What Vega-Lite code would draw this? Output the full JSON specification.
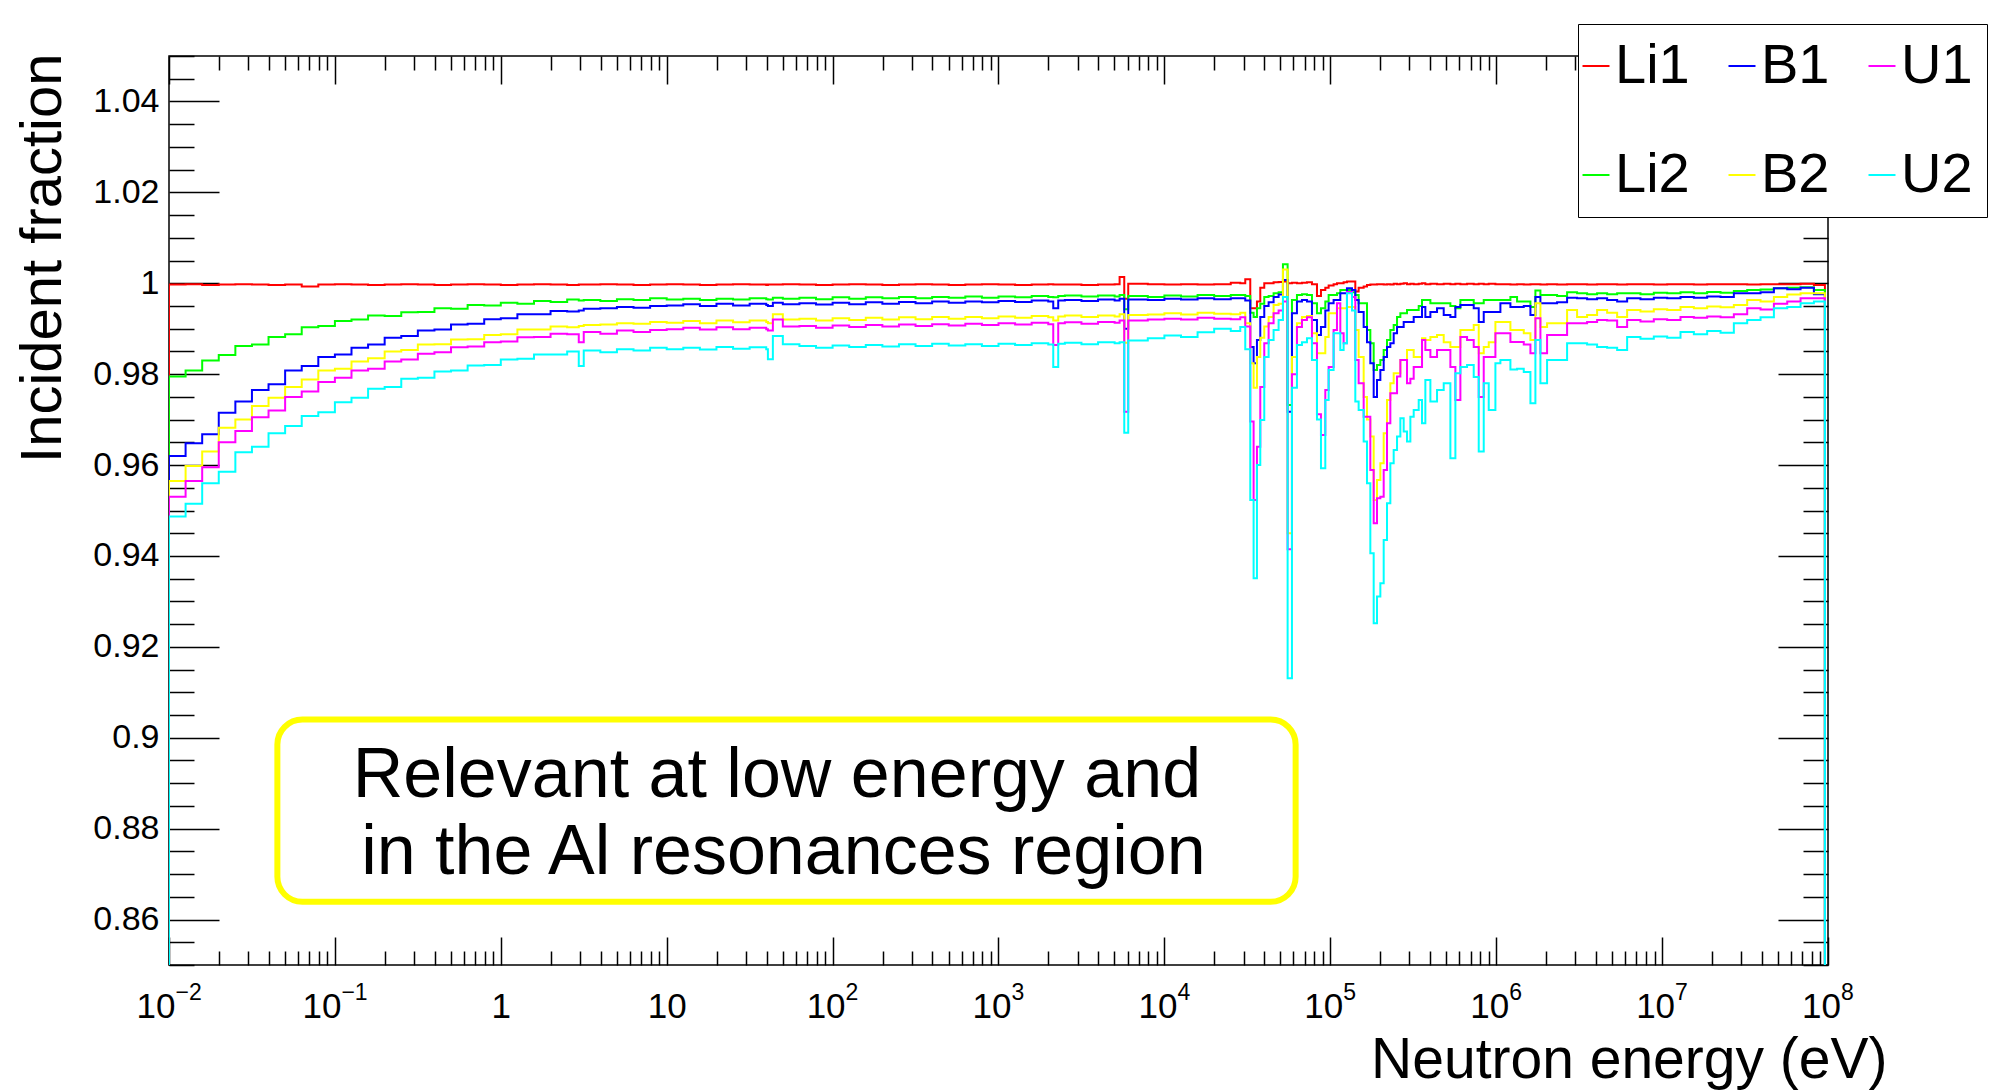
{
"$schema": "https://vega.github.io/schema/vega-lite/v6.json",
"width": 1659,
"height": 909,
"autosize": {"type": "none"},
"padding": {"left": 169, "top": 56, "right": 169, "bottom": 125},
"background": "white",
"config": {
  "view": {"stroke": "black", "strokeWidth": 1.5},
  "font": "Liberation Sans",
  "axis": {"labelColor": "black", "titleColor": "black", "tickColor": "black", "tickWidth": 1.5, "grid": false, "domain": false, "titleFontWeight": "normal"}
},
"resolve": {"axis": {"x": "independent", "y": "independent"}},
"layer": [
{
  "data": {"values": [
{"e":0.01,"Li1":0.85,"Li2":0.85,"B1":0.85,"B2":0.85,"U1":0.85,"U2":0.85},
{"e":0.01,"Li1":0.9997,"Li2":0.9795,"B1":0.9620,"B2":0.9565,"U1":0.9530,"U2":0.9487},
{"e":0.01259,"Li1":0.9998,"Li2":0.9808,"B1":0.9648,"B2":0.9598,"U1":0.9565,"U2":0.9515},
{"e":0.01585,"Li1":0.9996,"Li2":0.9830,"B1":0.9668,"B2":0.9630,"U1":0.9595,"U2":0.9560},
{"e":0.01995,"Li1":0.9997,"Li2":0.9842,"B1":0.9715,"B2":0.9682,"U1":0.9650,"U2":0.9585},
{"e":0.02512,"Li1":0.9998,"Li2":0.9862,"B1":0.9740,"B2":0.9700,"U1":0.9675,"U2":0.9628},
{"e":0.03162,"Li1":0.9997,"Li2":0.9865,"B1":0.9765,"B2":0.9730,"U1":0.9705,"U2":0.9640},
{"e":0.03981,"Li1":0.9996,"Li2":0.9882,"B1":0.9778,"B2":0.9748,"U1":0.9720,"U2":0.9670},
{"e":0.05012,"Li1":0.9997,"Li2":0.9888,"B1":0.9808,"B2":0.9772,"U1":0.9750,"U2":0.9686},
{"e":0.0631,"Li1":0.9993,"Li2":0.9903,"B1":0.9818,"B2":0.9788,"U1":0.9762,"U2":0.9708},
{"e":0.07943,"Li1":0.9997,"Li2":0.9906,"B1":0.9838,"B2":0.9808,"U1":0.9783,"U2":0.9716},
{"e":0.1,"Li1":0.9998,"Li2":0.9917,"B1":0.9843,"B2":0.9812,"U1":0.9792,"U2":0.9738},
{"e":0.1259,"Li1":0.9997,"Li2":0.9920,"B1":0.9858,"B2":0.9828,"U1":0.9808,"U2":0.9748},
{"e":0.1585,"Li1":0.9996,"Li2":0.9929,"B1":0.9865,"B2":0.9835,"U1":0.9812,"U2":0.9768},
{"e":0.1995,"Li1":0.9997,"Li2":0.9928,"B1":0.9880,"B2":0.9850,"U1":0.9828,"U2":0.9772},
{"e":0.2512,"Li1":0.9998,"Li2":0.9936,"B1":0.9884,"B2":0.9853,"U1":0.9832,"U2":0.9790},
{"e":0.3162,"Li1":0.9997,"Li2":0.9937,"B1":0.9896,"B2":0.9865,"U1":0.9845,"U2":0.9792},
{"e":0.3981,"Li1":0.9996,"Li2":0.9945,"B1":0.9898,"B2":0.9866,"U1":0.9848,"U2":0.9806},
{"e":0.5012,"Li1":0.9997,"Li2":0.9944,"B1":0.9909,"B2":0.9876,"U1":0.9859,"U2":0.9808},
{"e":0.631,"Li1":0.9998,"Li2":0.9952,"B1":0.9911,"B2":0.9877,"U1":0.9861,"U2":0.9819},
{"e":0.7943,"Li1":0.9997,"Li2":0.9951,"B1":0.9921,"B2":0.9886,"U1":0.9870,"U2":0.9820},
{"e":1,"Li1":0.9996,"Li2":0.9957,"B1":0.9923,"B2":0.9888,"U1":0.9872,"U2":0.9832},
{"e":1.259,"Li1":0.9997,"Li2":0.9955,"B1":0.9932,"B2":0.9898,"U1":0.9881,"U2":0.9834},
{"e":1.585,"Li1":0.9998,"Li2":0.9961,"B1":0.9932,"B2":0.9898,"U1":0.9882,"U2":0.9843},
{"e":1.995,"Li1":0.9997,"Li2":0.9959,"B1":0.9939,"B2":0.9905,"U1":0.9889,"U2":0.9843},
{"e":2.512,"Li1":0.9996,"Li2":0.9964,"B1":0.9938,"B2":0.9903,"U1":0.9888,"U2":0.9850},
{"e":2.951,"Li1":0.9997,"Li2":0.9962,"B1":0.9940,"B2":0.9906,"U1":0.9870,"U2":0.9818},
{"e":3.162,"Li1":0.9997,"Li2":0.9963,"B1":0.9944,"B2":0.9908,"U1":0.9893,"U2":0.9852},
{"e":3.981,"Li1":0.9998,"Li2":0.9961,"B1":0.9945,"B2":0.9909,"U1":0.9889,"U2":0.9848},
{"e":5.012,"Li1":0.9997,"Li2":0.9965,"B1":0.9948,"B2":0.9912,"U1":0.9896,"U2":0.9855},
{"e":6.31,"Li1":0.9996,"Li2":0.9963,"B1":0.9946,"B2":0.9911,"U1":0.9893,"U2":0.9852},
{"e":7.943,"Li1":0.9997,"Li2":0.9967,"B1":0.9950,"B2":0.9915,"U1":0.9897,"U2":0.9858},
{"e":10,"Li1":0.9998,"Li2":0.9964,"B1":0.9951,"B2":0.9913,"U1":0.9899,"U2":0.9855},
{"e":12.59,"Li1":0.9997,"Li2":0.9966,"B1":0.9954,"B2":0.9917,"U1":0.9902,"U2":0.9858},
{"e":15.85,"Li1":0.9996,"Li2":0.9963,"B1":0.9950,"B2":0.9912,"U1":0.9898,"U2":0.9854},
{"e":19.95,"Li1":0.9997,"Li2":0.9966,"B1":0.9955,"B2":0.9918,"U1":0.9903,"U2":0.9860},
{"e":25.12,"Li1":0.9998,"Li2":0.9964,"B1":0.9951,"B2":0.9914,"U1":0.9899,"U2":0.9856},
{"e":31.62,"Li1":0.9997,"Li2":0.9967,"B1":0.9955,"B2":0.9918,"U1":0.9902,"U2":0.9859},
{"e":39.81,"Li1":0.9996,"Li2":0.9965,"B1":0.9952,"B2":0.9915,"U1":0.9899,"U2":0.9855},
{"e":40.74,"Li1":0.9997,"Li2":0.9964,"B1":0.9950,"B2":0.9912,"U1":0.9896,"U2":0.9833},
{"e":43.65,"Li1":0.9997,"Li2":0.9968,"B1":0.9957,"B2":0.9932,"U1":0.9920,"U2":0.9884},
{"e":50.12,"Li1":0.9998,"Li2":0.9966,"B1":0.9954,"B2":0.9920,"U1":0.9905,"U2":0.9866},
{"e":63.1,"Li1":0.9997,"Li2":0.9968,"B1":0.9956,"B2":0.9922,"U1":0.9906,"U2":0.9862},
{"e":79.43,"Li1":0.9996,"Li2":0.9965,"B1":0.9953,"B2":0.9918,"U1":0.9902,"U2":0.9858},
{"e":100,"Li1":0.9997,"Li2":0.9969,"B1":0.9957,"B2":0.9923,"U1":0.9907,"U2":0.9863},
{"e":125.9,"Li1":0.9998,"Li2":0.9966,"B1":0.9954,"B2":0.9919,"U1":0.9904,"U2":0.9860},
{"e":158.5,"Li1":0.9997,"Li2":0.9969,"B1":0.9958,"B2":0.9924,"U1":0.9908,"U2":0.9864},
{"e":199.5,"Li1":0.9996,"Li2":0.9967,"B1":0.9955,"B2":0.9920,"U1":0.9905,"U2":0.9861},
{"e":251.2,"Li1":0.9997,"Li2":0.9970,"B1":0.9959,"B2":0.9925,"U1":0.9909,"U2":0.9866},
{"e":316.2,"Li1":0.9998,"Li2":0.9967,"B1":0.9956,"B2":0.9921,"U1":0.9906,"U2":0.9862},
{"e":398.1,"Li1":0.9997,"Li2":0.9970,"B1":0.9960,"B2":0.9926,"U1":0.9910,"U2":0.9867},
{"e":501.2,"Li1":0.9996,"Li2":0.9968,"B1":0.9957,"B2":0.9922,"U1":0.9907,"U2":0.9863},
{"e":631,"Li1":0.9997,"Li2":0.9971,"B1":0.9960,"B2":0.9926,"U1":0.9911,"U2":0.9866},
{"e":794.3,"Li1":0.9998,"Li2":0.9968,"B1":0.9958,"B2":0.9923,"U1":0.9908,"U2":0.9862},
{"e":1000,"Li1":0.9997,"Li2":0.9971,"B1":0.9961,"B2":0.9927,"U1":0.9912,"U2":0.9867},
{"e":1259,"Li1":0.9996,"Li2":0.9969,"B1":0.9959,"B2":0.9924,"U1":0.9909,"U2":0.9864},
{"e":1585,"Li1":0.9997,"Li2":0.9972,"B1":0.9962,"B2":0.9928,"U1":0.9913,"U2":0.9868},
{"e":1995,"Li1":0.9998,"Li2":0.9970,"B1":0.9960,"B2":0.9925,"U1":0.9910,"U2":0.9865},
{"e":2138,"Li1":0.9997,"Li2":0.9969,"B1":0.9945,"B2":0.9918,"U1":0.9864,"U2":0.9816},
{"e":2291,"Li1":0.9997,"Li2":0.9972,"B1":0.9962,"B2":0.9927,"U1":0.9912,"U2":0.9867},
{"e":2512,"Li1":0.9997,"Li2":0.9973,"B1":0.9963,"B2":0.9929,"U1":0.9914,"U2":0.9869},
{"e":3162,"Li1":0.9996,"Li2":0.9971,"B1":0.9961,"B2":0.9926,"U1":0.9911,"U2":0.9866},
{"e":3981,"Li1":0.9997,"Li2":0.9973,"B1":0.9964,"B2":0.9929,"U1":0.9915,"U2":0.9870},
{"e":5012,"Li1":0.9998,"Li2":0.9971,"B1":0.9962,"B2":0.9927,"U1":0.9913,"U2":0.9868},
{"e":5370,"Li1":1.0014,"Li2":0.9974,"B1":0.9966,"B2":0.9932,"U1":0.9918,"U2":0.9870},
{"e":5728,"Li1":0.9966,"Li2":0.9943,"B1":0.9900,"B2":0.9869,"U1":0.9717,"U2":0.9671},
{"e":6053,"Li1":0.9999,"Li2":0.9972,"B1":0.9964,"B2":0.9930,"U1":0.9918,"U2":0.9874},
{"e":7943,"Li1":0.9998,"Li2":0.9970,"B1":0.9963,"B2":0.9931,"U1":0.9920,"U2":0.9879},
{"e":10000,"Li1":0.9997,"Li2":0.9973,"B1":0.9966,"B2":0.9934,"U1":0.9922,"U2":0.9885},
{"e":12590,"Li1":0.9998,"Li2":0.9971,"B1":0.9964,"B2":0.9931,"U1":0.9920,"U2":0.9882},
{"e":15850,"Li1":0.9997,"Li2":0.9974,"B1":0.9967,"B2":0.9935,"U1":0.9924,"U2":0.9892},
{"e":19950,"Li1":0.9998,"Li2":0.9972,"B1":0.9965,"B2":0.9933,"U1":0.9922,"U2":0.9900},
{"e":25120,"Li1":1.0001,"Li2":0.9974,"B1":0.9967,"B2":0.9932,"U1":0.9921,"U2":0.9895},
{"e":28660,"Li1":1.0000,"Li2":0.9974,"B1":0.9967,"B2":0.9935,"U1":0.9925,"U2":0.9904},
{"e":30720,"Li1":1.0009,"Li2":0.9972,"B1":0.9962,"B2":0.9912,"U1":0.9905,"U2":0.9855},
{"e":32930,"Li1":0.9945,"Li2":0.9935,"B1":0.9860,"B2":0.9824,"U1":0.9696,"U2":0.9523},
{"e":34490,"Li1":0.9945,"Li2":0.9926,"B1":0.9824,"B2":0.9770,"U1":0.9523,"U2":0.9351},
{"e":36130,"Li1":0.9960,"Li2":0.9945,"B1":0.9875,"B2":0.9838,"U1":0.9640,"U2":0.9600},
{"e":37840,"Li1":0.9990,"Li2":0.9955,"B1":0.9926,"B2":0.9880,"U1":0.9772,"U2":0.9699},
{"e":39990,"Li1":1.0000,"Li2":0.9970,"B1":0.9950,"B2":0.9905,"U1":0.9868,"U2":0.9838},
{"e":42480,"Li1":1.0000,"Li2":0.9972,"B1":0.9958,"B2":0.9926,"U1":0.9912,"U2":0.9875},
{"e":45520,"Li1":1.0002,"Li2":0.9978,"B1":0.9970,"B2":0.9952,"U1":0.9934,"U2":0.9897},
{"e":48800,"Li1":1.0003,"Li2":0.9980,"B1":0.9975,"B2":0.9955,"U1":0.9940,"U2":0.9919},
{"e":51830,"Li1":1.0004,"Li2":1.0042,"B1":1.0007,"B2":1.0030,"U1":0.9960,"U2":0.9970},
{"e":55300,"Li1":1.0000,"Li2":0.9732,"B1":0.9717,"B2":0.9450,"U1":0.9415,"U2":0.9131},
{"e":58730,"Li1":1.0001,"Li2":0.9963,"B1":0.9934,"B2":0.9838,"U1":0.9800,"U2":0.9770},
{"e":62950,"Li1":1.0000,"Li2":0.9974,"B1":0.9960,"B2":0.9912,"U1":0.9904,"U2":0.9864},
{"e":67480,"Li1":1.0001,"Li2":0.9976,"B1":0.9963,"B2":0.9926,"U1":0.9919,"U2":0.9870},
{"e":72330,"Li1":1.0002,"Li2":0.9974,"B1":0.9960,"B2":0.9928,"U1":0.9925,"U2":0.9879},
{"e":77530,"Li1":0.9998,"Li2":0.9956,"B1":0.9919,"B2":0.9890,"U1":0.9868,"U2":0.9831},
{"e":83110,"Li1":0.9972,"Li2":0.9934,"B1":0.9886,"B2":0.9846,"U1":0.9712,"U2":0.9700},
{"e":87850,"Li1":0.9985,"Li2":0.9945,"B1":0.9904,"B2":0.9846,"U1":0.9666,"U2":0.9593},
{"e":93300,"Li1":0.9990,"Li2":0.9960,"B1":0.9940,"B2":0.9882,"U1":0.9765,"U2":0.9743},
{"e":97720,"Li1":0.9995,"Li2":0.9974,"B1":0.9956,"B2":0.9934,"U1":0.9816,"U2":0.9809},
{"e":104700,"Li1":0.9998,"Li2":0.9974,"B1":0.9963,"B2":0.9934,"U1":0.9897,"U2":0.9890},
{"e":109700,"Li1":1.0000,"Li2":0.9978,"B1":0.9963,"B2":0.9945,"U1":0.9956,"U2":0.9890},
{"e":114900,"Li1":1.0000,"Li2":0.9985,"B1":0.9978,"B2":0.9945,"U1":0.9890,"U2":0.9853},
{"e":120300,"Li1":1.0002,"Li2":0.9985,"B1":0.9978,"B2":0.9945,"U1":0.9868,"U2":0.9868},
{"e":126000,"Li1":1.0004,"Li2":0.9985,"B1":0.9989,"B2":0.9948,"U1":0.9981,"U2":0.9978},
{"e":135100,"Li1":1.0004,"Li2":0.9980,"B1":0.9985,"B2":0.9948,"U1":0.9970,"U2":0.9940},
{"e":141500,"Li1":0.9982,"Li2":0.9974,"B1":0.9963,"B2":0.9897,"U1":0.9831,"U2":0.9740},
{"e":148200,"Li1":0.9990,"Li2":0.9956,"B1":0.9937,"B2":0.9838,"U1":0.9780,"U2":0.9721},
{"e":158900,"Li1":0.9993,"Li2":0.9956,"B1":0.9904,"B2":0.9750,"U1":0.9706,"U2":0.9652},
{"e":166400,"Li1":0.9996,"Li2":0.9897,"B1":0.9870,"B2":0.9700,"U1":0.9706,"U2":0.9560},
{"e":174300,"Li1":0.9997,"Li2":0.9868,"B1":0.9824,"B2":0.9663,"U1":0.9589,"U2":0.9406},
{"e":182600,"Li1":0.9997,"Li2":0.9809,"B1":0.9750,"B2":0.9523,"U1":0.9472,"U2":0.9252},
{"e":191200,"Li1":0.9998,"Li2":0.9820,"B1":0.9787,"B2":0.9567,"U1":0.9527,"U2":0.9311},
{"e":200300,"Li1":0.9998,"Li2":0.9831,"B1":0.9809,"B2":0.9604,"U1":0.9530,"U2":0.9340},
{"e":209800,"Li1":0.9997,"Li2":0.9853,"B1":0.9838,"B2":0.9670,"U1":0.9589,"U2":0.9435},
{"e":219700,"Li1":0.9998,"Li2":0.9875,"B1":0.9860,"B2":0.9743,"U1":0.9692,"U2":0.9516},
{"e":230100,"Li1":0.9997,"Li2":0.9897,"B1":0.9868,"B2":0.9780,"U1":0.9758,"U2":0.9604},
{"e":241000,"Li1":0.9999,"Li2":0.9908,"B1":0.9890,"B2":0.9802,"U1":0.9758,"U2":0.9633},
{"e":252500,"Li1":0.9998,"Li2":0.9926,"B1":0.9904,"B2":0.9802,"U1":0.9795,"U2":0.9663},
{"e":264400,"Li1":0.9999,"Li2":0.9934,"B1":0.9904,"B2":0.9831,"U1":0.9831,"U2":0.9703},
{"e":276900,"Li1":1.0000,"Li2":0.9934,"B1":0.9915,"B2":0.9831,"U1":0.9831,"U2":0.9674},
{"e":290000,"Li1":0.9998,"Li2":0.9941,"B1":0.9915,"B2":0.9853,"U1":0.9780,"U2":0.9652},
{"e":303800,"Li1":0.9999,"Li2":0.9941,"B1":0.9915,"B2":0.9853,"U1":0.9790,"U2":0.9706},
{"e":318200,"Li1":0.9998,"Li2":0.9941,"B1":0.9926,"B2":0.9838,"U1":0.9816,"U2":0.9721},
{"e":341100,"Li1":0.9999,"Li2":0.9950,"B1":0.9926,"B2":0.9838,"U1":0.9816,"U2":0.9743},
{"e":357200,"Li1":1.0000,"Li2":0.9963,"B1":0.9948,"B2":0.9879,"U1":0.9875,"U2":0.9692},
{"e":374100,"Li1":0.9998,"Li2":0.9963,"B1":0.9926,"B2":0.9875,"U1":0.9853,"U2":0.9787},
{"e":401100,"Li1":0.9999,"Li2":0.9956,"B1":0.9937,"B2":0.9882,"U1":0.9838,"U2":0.9740},
{"e":439900,"Li1":0.9998,"Li2":0.9956,"B1":0.9945,"B2":0.9886,"U1":0.9853,"U2":0.9765},
{"e":482600,"Li1":0.9999,"Li2":0.9956,"B1":0.9930,"B2":0.9870,"U1":0.9853,"U2":0.9780},
{"e":529400,"Li1":0.9998,"Li2":0.9950,"B1":0.9926,"B2":0.9860,"U1":0.9816,"U2":0.9615},
{"e":567500,"Li1":0.9999,"Li2":0.9945,"B1":0.9948,"B2":0.9860,"U1":0.9743,"U2":0.9802},
{"e":608300,"Li1":0.9998,"Li2":0.9963,"B1":0.9952,"B2":0.9897,"U1":0.9882,"U2":0.9816},
{"e":667300,"Li1":0.9999,"Li2":0.9963,"B1":0.9952,"B2":0.9897,"U1":0.9875,"U2":0.9820},
{"e":732000,"Li1":0.9998,"Li2":0.9956,"B1":0.9945,"B2":0.9908,"U1":0.9860,"U2":0.9794},
{"e":784700,"Li1":0.9999,"Li2":0.9956,"B1":0.9915,"B2":0.9846,"U1":0.9750,"U2":0.9630},
{"e":841100,"Li1":0.9998,"Li2":0.9963,"B1":0.9937,"B2":0.9860,"U1":0.9838,"U2":0.9780},
{"e":901600,"Li1":0.9999,"Li2":0.9963,"B1":0.9937,"B2":0.9870,"U1":0.9838,"U2":0.9721},
{"e":989000,"Li1":0.9998,"Li2":0.9963,"B1":0.9937,"B2":0.9915,"U1":0.9890,"U2":0.9824},
{"e":1060000,"Li1":0.9998,"Li2":0.9963,"B1":0.9956,"B2":0.9915,"U1":0.9890,"U2":0.9831},
{"e":1218000,"Li1":0.9997,"Li2":0.9970,"B1":0.9948,"B2":0.9897,"U1":0.9871,"U2":0.9810},
{"e":1336000,"Li1":0.9998,"Li2":0.9960,"B1":0.9948,"B2":0.9897,"U1":0.9871,"U2":0.9812},
{"e":1466000,"Li1":0.9997,"Li2":0.9960,"B1":0.9950,"B2":0.9890,"U1":0.9865,"U2":0.9805},
{"e":1608000,"Li1":0.9998,"Li2":0.9948,"B1":0.9930,"B2":0.9875,"U1":0.9846,"U2":0.9736},
{"e":1723000,"Li1":0.9998,"Li2":0.9984,"B1":0.9970,"B2":0.9956,"U1":0.9923,"U2":0.9875},
{"e":1847000,"Li1":0.9997,"Li2":0.9974,"B1":0.9956,"B2":0.9904,"U1":0.9846,"U2":0.9780},
{"e":2026000,"Li1":0.9998,"Li2":0.9974,"B1":0.9956,"B2":0.9912,"U1":0.9886,"U2":0.9831},
{"e":2328000,"Li1":0.9997,"Li2":0.9972,"B1":0.9958,"B2":0.9912,"U1":0.9886,"U2":0.9831},
{"e":2675000,"Li1":0.9998,"Li2":0.9980,"B1":0.9968,"B2":0.9941,"U1":0.9912,"U2":0.9868},
{"e":3073000,"Li1":0.9998,"Li2":0.9978,"B1":0.9967,"B2":0.9926,"U1":0.9912,"U2":0.9868},
{"e":3531000,"Li1":0.9997,"Li2":0.9976,"B1":0.9965,"B2":0.9930,"U1":0.9915,"U2":0.9865},
{"e":4057000,"Li1":0.9998,"Li2":0.9978,"B1":0.9967,"B2":0.9941,"U1":0.9919,"U2":0.9860},
{"e":4663000,"Li1":0.9998,"Li2":0.9976,"B1":0.9963,"B2":0.9935,"U1":0.9918,"U2":0.9858},
{"e":5358000,"Li1":0.9997,"Li2":0.9978,"B1":0.9960,"B2":0.9926,"U1":0.9904,"U2":0.9853},
{"e":6155000,"Li1":0.9998,"Li2":0.9978,"B1":0.9967,"B2":0.9941,"U1":0.9919,"U2":0.9882},
{"e":7405000,"Li1":0.9998,"Li2":0.9976,"B1":0.9965,"B2":0.9938,"U1":0.9916,"U2":0.9878},
{"e":8913000,"Li1":0.9997,"Li2":0.9979,"B1":0.9968,"B2":0.9943,"U1":0.9921,"U2":0.9883},
{"e":10730000,"Li1":0.9998,"Li2":0.9978,"B1":0.9967,"B2":0.9941,"U1":0.9919,"U2":0.9880},
{"e":12910000,"Li1":0.9998,"Li2":0.9980,"B1":0.9970,"B2":0.9948,"U1":0.9926,"U2":0.9893},
{"e":15540000,"Li1":0.9997,"Li2":0.9978,"B1":0.9968,"B2":0.9945,"U1":0.9924,"U2":0.9888},
{"e":18690000,"Li1":0.9998,"Li2":0.9981,"B1":0.9971,"B2":0.9949,"U1":0.9927,"U2":0.9895},
{"e":22500000,"Li1":0.9998,"Li2":0.9979,"B1":0.9970,"B2":0.9947,"U1":0.9925,"U2":0.9891},
{"e":27070000,"Li1":0.9998,"Li2":0.9983,"B1":0.9978,"B2":0.9952,"U1":0.9932,"U2":0.9912},
{"e":32580000,"Li1":0.9997,"Li2":0.9985,"B1":0.9978,"B2":0.9963,"U1":0.9945,"U2":0.9919},
{"e":39210000,"Li1":0.9998,"Li2":0.9986,"B1":0.9980,"B2":0.9960,"U1":0.9942,"U2":0.9925},
{"e":47190000,"Li1":0.9998,"Li2":0.9989,"B1":0.9989,"B2":0.9970,"U1":0.9955,"U2":0.9945},
{"e":56790000,"Li1":0.9998,"Li2":0.9990,"B1":0.9987,"B2":0.9975,"U1":0.9960,"U2":0.9948},
{"e":68330000,"Li1":0.9999,"Li2":0.9991,"B1":0.9990,"B2":0.9978,"U1":0.9967,"U2":0.9956},
{"e":82220000,"Li1":0.9996,"Li2":0.9985,"B1":0.9976,"B2":0.9978,"U1":0.9967,"U2":0.9960},
{"e":95810000,"Li1":0.9996,"Li2":0.9985,"B1":0.9976,"B2":0.9978,"U1":0.9967,"U2":0.9960},
{"e":95810000,"Li1":0.85,"Li2":0.85,"B1":0.85,"B2":0.85,"U1":0.85,"U2":0.85}
  ]},
  "transform": [{"fold": ["Li1", "Li2", "B1", "B2", "U1", "U2"], "as": ["series", "frac"]}],
  "mark": {"type": "line", "interpolate": "step-after", "strokeWidth": 2, "clip": true},
  "encoding": {
    "x": {"field": "e", "type": "quantitative",
      "scale": {"type": "log", "domain": [0.01, 100000000], "nice": false},
      "axis": {"orient": "bottom", "values": [0.01, 0.1, 1, 10, 100, 1000, 10000, 100000, 1000000, 10000000, 100000000],
        "labelExpr": "datum.value > 0.5 && datum.value < 5 ? '1' : '10'",
        "labelAlign": "center",
        "labelOffset": {"condition": [{"test": "datum.value < 0.5", "value": -13.5}, {"test": "datum.value > 50", "value": -7}], "value": 0},
        "ticks": false, "domain": false, "grid": false,
        "labelFont": "Liberation Sans", "labelFontSize": 35, "labelPadding": 52, "labelBaseline": "alphabetic",
        "labelFlush": false, "labelOverlap": false, "labelBound": false,
        "title": "Neutron energy (eV)", "titleFont": "Liberation Sans", "titleFontSize": 57, "titleFontWeight": "normal",
        "titleAnchor": "end", "titleAlign": "right", "titleBaseline": "alphabetic", "titleX": 1718, "titleY": 112}},
    "y": {"field": "frac", "type": "quantitative",
      "scale": {"domain": [0.85, 1.05], "nice": false, "zero": false},
      "axis": {"orient": "left", "values": [0.86, 0.88, 0.9, 0.92, 0.94, 0.96, 0.98, 1, 1.02, 1.04], "format": ".2~f",
        "ticks": false, "domain": false, "grid": false,
        "labelFont": "Liberation Sans", "labelFontSize": 34, "labelPadding": 10, "labelAlign": "right", "labelBaseline": "middle",
        "labelFlush": false, "labelOverlap": false, "labelBound": false,
        "title": "Incident fraction", "titleFont": "Liberation Sans", "titleFontSize": 58, "titleFontWeight": "normal",
        "titleAnchor": "end", "titleAlign": "right", "titleAngle": 270, "titleBaseline": "alphabetic", "titleX": -109, "titleY": -3}},
    "color": {"field": "series", "type": "nominal",
      "scale": {"domain": ["Li1", "B1", "U1", "Li2", "B2", "U2"], "range": ["#ff0000", "#0000ff", "#ff00ff", "#00ff00", "#ffff00", "#00ffff"]},
      "legend": {"orient": "none", "legendX": 1409, "legendY": -32, "direction": "horizontal", "columns": 3, "title": null,
        "symbolType": "stroke", "symbolSize": 729, "symbolStrokeWidth": 2, "symbolOffset": -24,
        "labelFont": "Liberation Sans", "labelFontSize": 56, "labelColor": "black",
        "labelOffset": -9, "columnPadding": 34, "rowPadding": 53, "padding": 14,
        "strokeColor": "black", "fillColor": "white"}},
    "order": {"value": null}
  }
},
{
  "data": {"values": [{}]},
  "mark": {"type": "rect", "fill": "white", "stroke": "#ffff00", "strokeWidth": 6, "cornerRadius": 25},
  "encoding": {
    "x": {"datum": 0.045, "type": "quantitative",
      "scale": {"type": "log", "domain": [0.01, 100000000], "nice": false},
      "axis": {"orient": "bottom", "labels": false, "title": null, "domain": false, "grid": false, "ticks": true,
        "values": [0.01,0.02,0.03,0.04,0.05,0.06,0.07,0.08,0.09,0.1,0.2,0.3,0.4,0.5,0.6,0.7,0.8,0.9,1,2,3,4,5,6,7,8,9,10,20,30,40,50,60,70,80,90,100,200,300,400,500,600,700,800,900,1000,2000,3000,4000,5000,6000,7000,8000,9000,10000,20000,30000,40000,50000,60000,70000,80000,90000,100000,200000,300000,400000,500000,600000,700000,800000,900000,1000000,2000000,3000000,4000000,5000000,6000000,7000000,8000000,9000000,10000000,20000000,30000000,40000000,50000000,60000000,70000000,80000000,90000000,100000000],
        "tickColor": "black", "tickWidth": 1.5,
        "tickSize": {"condition": {"test": "abs(log(datum.value)/LN10 - round(log(datum.value)/LN10)) < 0.001", "value": -28}, "value": -14}}},
    "x2": {"datum": 61800},
    "y": {"datum": 0.8639, "type": "quantitative",
      "scale": {"domain": [0.85, 1.05], "nice": false, "zero": false},
      "axis": {"orient": "left", "labels": false, "title": null, "domain": false, "grid": false, "ticks": true,
        "values": [0.85,0.855,0.86,0.865,0.87,0.875,0.88,0.885,0.89,0.895,0.9,0.905,0.91,0.915,0.92,0.925,0.93,0.935,0.94,0.945,0.95,0.955,0.96,0.965,0.97,0.975,0.98,0.985,0.99,0.995,1,1.005,1.01,1.015,1.02,1.025,1.03,1.035,1.04,1.045,1.05],
        "tickColor": "black", "tickWidth": 1.5,
        "tickSize": {"condition": {"test": "abs(datum.value*50 - round(datum.value*50)) < 0.01", "value": -50}, "value": -25}}},
    "y2": {"datum": 0.904}
  }
},
{
  "data": {"values": [{}]},
  "mark": {"type": "text", "text": "Relevant at low energy and",
    "font": "Liberation Sans", "fontSize": 70, "align": "center", "baseline": "alphabetic", "fill": "black"},
  "encoding": {
    "x": {"datum": 46.2, "type": "quantitative",
      "scale": {"type": "log", "domain": [0.01, 100000000], "nice": false},
      "axis": {"orient": "top", "labels": false, "title": null, "domain": false, "grid": false, "ticks": true,
        "values": [0.01,0.02,0.03,0.04,0.05,0.06,0.07,0.08,0.09,0.1,0.2,0.3,0.4,0.5,0.6,0.7,0.8,0.9,1,2,3,4,5,6,7,8,9,10,20,30,40,50,60,70,80,90,100,200,300,400,500,600,700,800,900,1000,2000,3000,4000,5000,6000,7000,8000,9000,10000,20000,30000,40000,50000,60000,70000,80000,90000,100000,200000,300000,400000,500000,600000,700000,800000,900000,1000000,2000000,3000000,4000000,5000000,6000000,7000000,8000000,9000000,10000000,20000000,30000000,40000000,50000000,60000000,70000000,80000000,90000000,100000000],
        "tickColor": "black", "tickWidth": 1.5,
        "tickSize": {"condition": {"test": "abs(log(datum.value)/LN10 - round(log(datum.value)/LN10)) < 0.001", "value": -28}, "value": -14}}},
    "y": {"datum": 0.887, "type": "quantitative",
      "scale": {"domain": [0.85, 1.05], "nice": false, "zero": false},
      "axis": {"orient": "right", "labels": false, "title": null, "domain": false, "grid": false, "ticks": true,
        "values": [0.85,0.855,0.86,0.865,0.87,0.875,0.88,0.885,0.89,0.895,0.9,0.905,0.91,0.915,0.92,0.925,0.93,0.935,0.94,0.945,0.95,0.955,0.96,0.965,0.97,0.975,0.98,0.985,0.99,0.995,1,1.005,1.01,1.015,1.02,1.025,1.03,1.035,1.04,1.045,1.05],
        "tickColor": "black", "tickWidth": 1.5,
        "tickSize": {"condition": {"test": "abs(datum.value*50 - round(datum.value*50)) < 0.01", "value": -50}, "value": -25}}}
  }
},
{
  "data": {"values": [{}]},
  "mark": {"type": "text", "text": "in the Al resonances region",
    "font": "Liberation Sans", "fontSize": 70, "align": "center", "baseline": "alphabetic", "fill": "black"},
  "encoding": {
    "x": {"datum": 50.5, "type": "quantitative",
      "scale": {"type": "log", "domain": [0.01, 100000000], "nice": false},
      "axis": {"orient": "bottom", "values": [0.01, 0.1, 100, 1000, 10000, 100000, 1000000, 10000000, 100000000],
        "labelExpr": "['−2','−1','','','2','3','4','5','6','7','8'][round(log(datum.value)/LN10)+2]",
        "labelAlign": "left",
        "labelOffset": {"condition": {"test": "datum.value < 0.5", "value": 6}, "value": 12.5},
        "ticks": false, "domain": false, "grid": false, "title": null,
        "labelFont": "Liberation Sans", "labelFontSize": 23, "labelPadding": 34, "labelBaseline": "alphabetic",
        "labelFlush": false, "labelOverlap": false, "labelBound": false}},
    "y": {"datum": 0.8701, "type": "quantitative",
      "scale": {"domain": [0.85, 1.05], "nice": false, "zero": false},
      "axis": null}
  }
}
]
}
